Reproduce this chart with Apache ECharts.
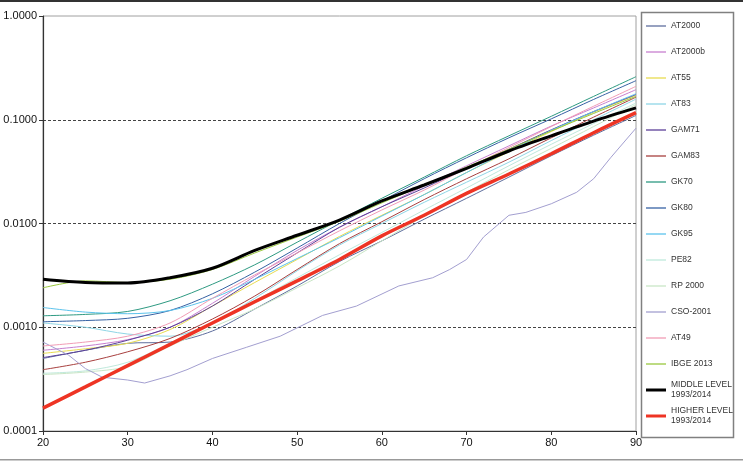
<!DOCTYPE html>
<html>
<head>
<meta charset="utf-8">
<script src="https://cdn.jsdelivr.net/npm/echarts@6/dist/echarts.min.js"></script>
<style>
  html, body { margin: 0; padding: 0; background: #fff; }
  #chart { width: 743px; height: 462px; }
</style>
</head>
<body>
<div id="chart"></div>
<script>
// ages (every 5 years)
const ages = [20, 25, 30, 35, 40, 45, 50, 55, 60, 65, 70, 75, 80, 85, 90];
const xTicks = [20, 30, 40, 50, 60, 70, 80, 90];
const yTicks = [0.0001, 0.001, 0.01, 0.1, 1];

// mortality rates qx
const at2000   = [0.00050, 0.00060, 0.00070, 0.00072, 0.00092, 0.0015, 0.0025, 0.0043, 0.0068, 0.0110, 0.0175, 0.028, 0.045, 0.071, 0.110];
const at2000b  = [0.00060, 0.00066, 0.00076, 0.0010, 0.0017, 0.0031, 0.0055, 0.0092, 0.0145, 0.023, 0.036, 0.056, 0.087, 0.130, 0.195];
const at55     = [0.00056, 0.00062, 0.00070, 0.00095, 0.0016, 0.0027, 0.0045, 0.0075, 0.0120, 0.019, 0.031, 0.049, 0.077, 0.118, 0.172];
const at83     = [0.00110, 0.00100, 0.00086, 0.00082, 0.0011, 0.0019, 0.0035, 0.0062, 0.0100, 0.0160, 0.025, 0.039, 0.063, 0.100, 0.158];
const gam71    = [0.00051, 0.00060, 0.00075, 0.0010, 0.0016, 0.0029, 0.0052, 0.0092, 0.0145, 0.022, 0.034, 0.052, 0.080, 0.120, 0.175];
const gam83    = [0.00039, 0.00046, 0.00058, 0.00078, 0.0012, 0.0020, 0.0036, 0.0064, 0.0104, 0.017, 0.027, 0.042, 0.067, 0.106, 0.165];
const gk70     = [0.00129, 0.00133, 0.00142, 0.0018, 0.0026, 0.0040, 0.0066, 0.0108, 0.0175, 0.028, 0.045, 0.070, 0.108, 0.168, 0.260];
const gk80     = [0.00113, 0.00116, 0.00122, 0.00145, 0.0021, 0.0034, 0.0058, 0.0100, 0.0165, 0.027, 0.043, 0.067, 0.102, 0.157, 0.238];
const gk95     = [0.00155, 0.00140, 0.00135, 0.00145, 0.0019, 0.0029, 0.0046, 0.0073, 0.0118, 0.019, 0.031, 0.050, 0.079, 0.120, 0.178];
const pe82     = [0.00036, 0.00038, 0.00046, 0.00070, 0.0011, 0.0018, 0.0030, 0.0050, 0.0082, 0.0135, 0.022, 0.036, 0.058, 0.092, 0.145];
const rp2000   = [0.00035, 0.00037, 0.00042, 0.00066, 0.00100, 0.0015, 0.0024, 0.0039, 0.0068, 0.0118, 0.020, 0.033, 0.053, 0.086, 0.140];
const at49     = [0.00066, 0.00072, 0.00082, 0.0011, 0.0019, 0.0032, 0.0052, 0.0085, 0.0135, 0.021, 0.034, 0.054, 0.086, 0.135, 0.210];
const ibge2013 = [0.0024, 0.0028, 0.0027, 0.0029, 0.0036, 0.0052, 0.0074, 0.0105, 0.0158, 0.0235, 0.035, 0.052, 0.078, 0.115, 0.168];
const middle   = [0.0029, 0.0027, 0.00267, 0.0030, 0.0037, 0.0055, 0.0077, 0.0108, 0.0165, 0.0235, 0.034, 0.050, 0.070, 0.097, 0.130];
const higher   = [0.000166, 0.000266, 0.000427, 0.000684, 0.0011, 0.00176, 0.0028, 0.0045, 0.0076, 0.0120, 0.0195, 0.030, 0.047, 0.075, 0.117];

// CSO-2001 is bumpy, so it gets its own ages
const csoAges = [20, 23, 25, 27, 30, 32, 35, 37, 40, 44, 48, 53, 57, 62, 66, 68, 70, 72, 75, 77, 80, 83, 85, 87, 90];
const cso2001 = [0.00072, 0.00054, 0.00040, 0.00033, 0.00031, 0.00029, 0.00034, 0.00039, 0.00050, 0.00064, 0.00082, 0.0013, 0.0016, 0.0025, 0.0030, 0.0036, 0.0045, 0.0074, 0.0120, 0.0128, 0.0155, 0.020, 0.027, 0.043, 0.083];

const pairs = (xs, ys) => xs.map((x, i) => [x, ys[i]]);

const tables = [
  { name: 'AT2000',    data: pairs(ages, at2000),      color: '#5f6f9e' },
  { name: 'AT2000b',   data: pairs(ages, at2000b),     color: '#c77fd0' },
  { name: 'AT55',      data: pairs(ages, at55),        color: '#e8dc50' },
  { name: 'AT83',      data: pairs(ages, at83),        color: '#8fd6e6' },
  { name: 'GAM71',     data: pairs(ages, gam71),       color: '#5b3f98' },
  { name: 'GAM83',     data: pairs(ages, gam83),       color: '#a8403f' },
  { name: 'GK70',      data: pairs(ages, gk70),        color: '#2e9a82' },
  { name: 'GK80',      data: pairs(ages, gk80),        color: '#3762a4' },
  { name: 'GK95',      data: pairs(ages, gk95),        color: '#5cc3ec' },
  { name: 'PE82',      data: pairs(ages, pe82),        color: '#bfe9dc' },
  { name: 'RP 2000',   data: pairs(ages, rp2000),      color: '#c9e6c6' },
  { name: 'CSO-2001',  data: pairs(csoAges, cso2001),  color: '#a39fd0', smooth: false },
  { name: 'AT49',      data: pairs(ages, at49),        color: '#f29cb5' },
  { name: 'IBGE 2013', data: pairs(ages, ibge2013),    color: '#9ac83e' },
  { name: 'MIDDLE LEVEL\n1993/2014', data: pairs(ages, middle), color: '#000000', width: 3 },
  { name: 'HIGHER LEVEL\n1993/2014', data: pairs(ages, higher), color: '#ee3424', width: 3.5 }
];

const thinIcon = 'path://M0,0H20V1.3H0Z';
const thickIcon = 'path://M0,0H20V3H0Z';

const chart = echarts.init(document.getElementById('chart'));

chart.setOption({
  animation: false,
  backgroundColor: '#fff',
  textStyle: { fontFamily: 'Liberation Sans, Arial, sans-serif' },
  grid: {
    left: 43, right: 107, top: 16, bottom: 31,
    outerBoundsMode: 'none',
    show: true, borderColor: '#a0a0a0', borderWidth: 1
  },
  legend: {
    orient: 'vertical',
    left: 641, top: 11,
    itemWidth: 20, itemHeight: 14, itemGap: 6,
    symbolKeepAspect: true,
    textStyle: { fontSize: 8.5, color: '#333', lineHeight: 10, height: 20 },
    data: tables.map(t => ({ name: t.name, icon: t.width ? thickIcon : thinIcon }))
  },
  xAxis: {
    type: 'value',
    min: xTicks[0], max: xTicks[xTicks.length - 1], interval: 10,
    axisLine: { lineStyle: { color: '#333', width: 1.2 } },
    axisTick: { show: true, length: 4, lineStyle: { color: '#333' } },
    axisLabel: { fontSize: 11, color: '#111', margin: 6 },
    splitLine: { show: false }
  },
  yAxis: {
    type: 'log', logBase: 10,
    min: yTicks[0], max: yTicks[yTicks.length - 1],
    axisLine: { show: true, lineStyle: { color: '#333', width: 1.2 } },
    axisTick: { show: true, length: 4, lineStyle: { color: '#333' } },
    axisLabel: { fontSize: 11, color: '#111', margin: 6, formatter: v => Number(v).toFixed(4) },
    splitLine: {
      show: true, showMinLine: false, showMaxLine: false,
      lineStyle: { color: '#444', type: [3, 2], width: 1 }
    }
  },
  graphic: [
    { type: 'rect', shape: { x: 0, y: 0, width: 743, height: 2 }, style: { fill: '#333' } },
    { type: 'rect', shape: { x: 0, y: 459, width: 743, height: 1.5 }, style: { fill: '#999' } },
    { type: 'rect', z: -1, shape: { x: 641.5, y: 12.5, width: 92, height: 425 },
      style: { fill: '#fff', stroke: '#808080', lineWidth: 1.5 } }
  ],
  series: tables.map(t => ({
    name: t.name,
    type: 'line',
    data: t.data,
    symbol: 'none',
    smooth: t.smooth === false ? false : 0.3,
    lineStyle: { color: t.color, width: t.width || 1 },
    itemStyle: { color: t.color },
    emphasis: { disabled: true }
  }))
});
</script>
</body>
</html>
